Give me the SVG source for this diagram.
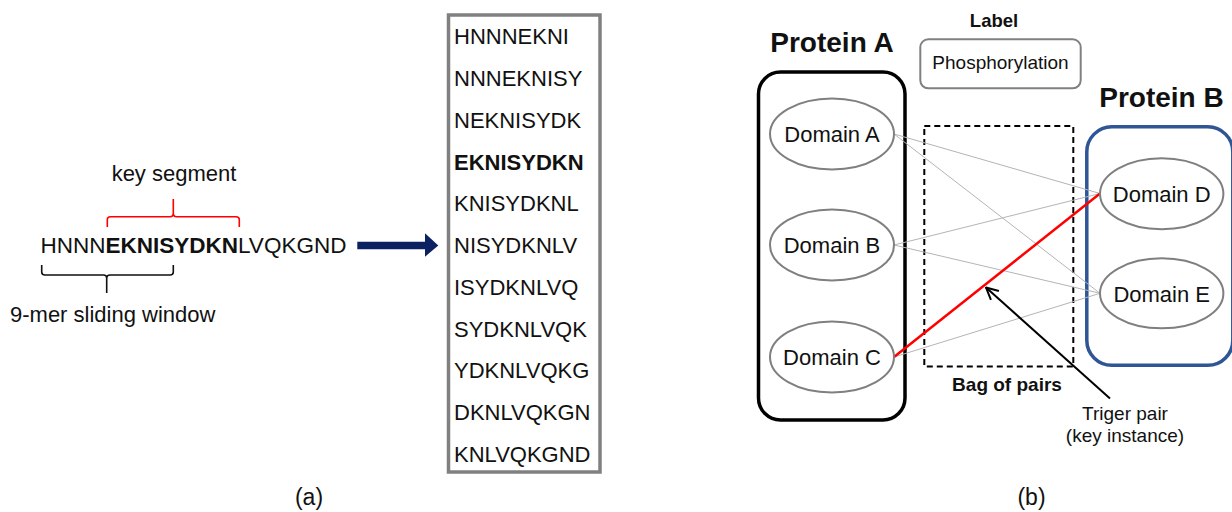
<svg xmlns="http://www.w3.org/2000/svg" width="1232" height="512" viewBox="0 0 1232 512">
<style>
text{font-family:"Liberation Sans",Arial,sans-serif;fill:#111}
.b{font-weight:bold}
.lst{font-size:22px}
.dom{font-size:22px;text-anchor:middle}
.ell{fill:#fff;stroke:#7f7f7f;stroke-width:2}
.thin{stroke:#b4b4b4;stroke-width:1;fill:none}
</style>
<defs>
<marker id="open" viewBox="0 0 14 14" refX="13" refY="7" markerWidth="14" markerHeight="14" markerUnits="userSpaceOnUse" orient="auto">
<polyline points="1,1 13,7 1,13" fill="none" stroke="#000" stroke-width="2"/>
</marker>
</defs>
<rect width="1232" height="512" fill="#fff"/>

<g id="panel-a">
<text x="174" y="181" font-size="22" text-anchor="middle">key segment</text>
<path d="M107.3 227 V219.5 Q107.3 216.7 110.5 216.7 H170 Q173.3 216.7 173.3 213 V199 M173.3 213 Q173.3 216.7 176.5 216.7 H236 Q239.3 216.7 239.3 219.5 V227" fill="none" stroke="#ff0000" stroke-width="1.6"/>
<text x="40.5" y="252.7" font-size="22.5">HNNN<tspan class="b">EKNISYDKN</tspan>LVQKGND</text>
<path d="M41.7 265 V272 Q41.7 275 45 275 H103.5 Q106.7 275 106.7 278 V293 M106.7 278 Q106.7 275 110 275 H170 Q173.3 275 173.3 272 V265" fill="none" stroke="#111" stroke-width="1.6"/>
<text x="10" y="321.5" font-size="22">9-mer sliding window</text>
<path d="M357.3 241.7 H425 V233.3 L438.3 245.5 L425 256.7 V249.3 H357.3 Z" fill="#0b2161"/>
<text x="309" y="505" font-size="23" text-anchor="middle">(a)</text>
</g>

<g id="window-list">
<rect x="448.5" y="15" width="151.5" height="457" fill="#fff" stroke="#808080" stroke-width="3.5"/>
<text class="lst" x="454" y="44.3">HNNNEKNI</text>
<text class="lst" x="454" y="86">NNNEKNISY</text>
<text class="lst" x="454" y="127.8">NEKNISYDK</text>
<text class="lst b" x="454" y="169.5">EKNISYDKN</text>
<text class="lst" x="454" y="211.3">KNISYDKNL</text>
<text class="lst" x="454" y="253">NISYDKNLV</text>
<text class="lst" x="454" y="294.8">ISYDKNLVQ</text>
<text class="lst" x="454" y="336.5">SYDKNLVQK</text>
<text class="lst" x="454" y="378.3">YDKNLVQKG</text>
<text class="lst" x="454" y="420">DKNLVQKGN</text>
<text class="lst" x="454" y="461.7">KNLVQKGND</text>
</g>

<g id="label">
<text class="b" x="994" y="27.3" font-size="18.5" text-anchor="middle">Label</text>
<rect x="920.3" y="39.3" width="160.4" height="49" rx="8" fill="#fff" stroke="#808080" stroke-width="2"/>
<text x="1000.5" y="69.3" font-size="19" text-anchor="middle">Phosphorylation</text>
</g>

<g id="bag">
<rect x="924.3" y="126" width="149" height="240.5" fill="none" stroke="#000" stroke-width="2" stroke-dasharray="6,4"/>
<text class="b" x="1007" y="390.7" font-size="19" text-anchor="middle">Bag of pairs</text>
</g>

<g id="protein-a">
<text class="b" x="832" y="52.3" font-size="28" text-anchor="middle">Protein A</text>
<rect x="758.5" y="72" width="146.5" height="348" rx="22" fill="none" stroke="#000" stroke-width="3.5"/>
</g>

<g id="protein-b">
<text class="b" x="1161.5" y="107.3" font-size="28" text-anchor="middle">Protein B</text>
<rect x="1086.8" y="126.8" width="146" height="238.5" rx="25" fill="none" stroke="#2f5597" stroke-width="3.5"/>
</g>

<g id="connectors">
<line class="thin" x1="894" y1="134" x2="1100" y2="193.5"/>
<line class="thin" x1="894" y1="134" x2="1100" y2="293.3"/>
<line class="thin" x1="894" y1="245" x2="1100" y2="193.5"/>
<line class="thin" x1="894" y1="245" x2="1100" y2="293.3"/>
<line class="thin" x1="894" y1="357" x2="1100" y2="293.3"/>
<line x1="894" y1="357" x2="1100" y2="193.5" stroke="#ff0000" stroke-width="2.5"/>
<line x1="1110" y1="398.5" x2="986" y2="287.5" stroke="#000" stroke-width="2" marker-end="url(#open)"/>
</g>

<g id="domain-a"><ellipse class="ell" cx="832" cy="134" rx="62" ry="35.5"/><text class="dom" x="832" y="142.3">Domain A</text></g>
<g id="domain-b"><ellipse class="ell" cx="832" cy="245" rx="62" ry="35.5"/><text class="dom" x="832" y="253.3">Domain B</text></g>
<g id="domain-c"><ellipse class="ell" cx="832" cy="357" rx="62" ry="35.5"/><text class="dom" x="832" y="365.3">Domain C</text></g>
<g id="domain-d"><ellipse class="ell" cx="1161.7" cy="193.8" rx="61.7" ry="35.5"/><text class="dom" x="1161.7" y="202">Domain D</text></g>
<g id="domain-e"><ellipse class="ell" cx="1161.7" cy="293.3" rx="61.7" ry="35"/><text class="dom" x="1161.7" y="301.5">Domain E</text></g>

<g id="trigger-note">
<text x="1125" y="420" font-size="19" text-anchor="middle">Triger pair</text>
<text x="1125" y="441.5" font-size="19" text-anchor="middle">(key instance)</text>
</g>
<text x="1031.5" y="505" font-size="23" text-anchor="middle">(b)</text>
</svg>
